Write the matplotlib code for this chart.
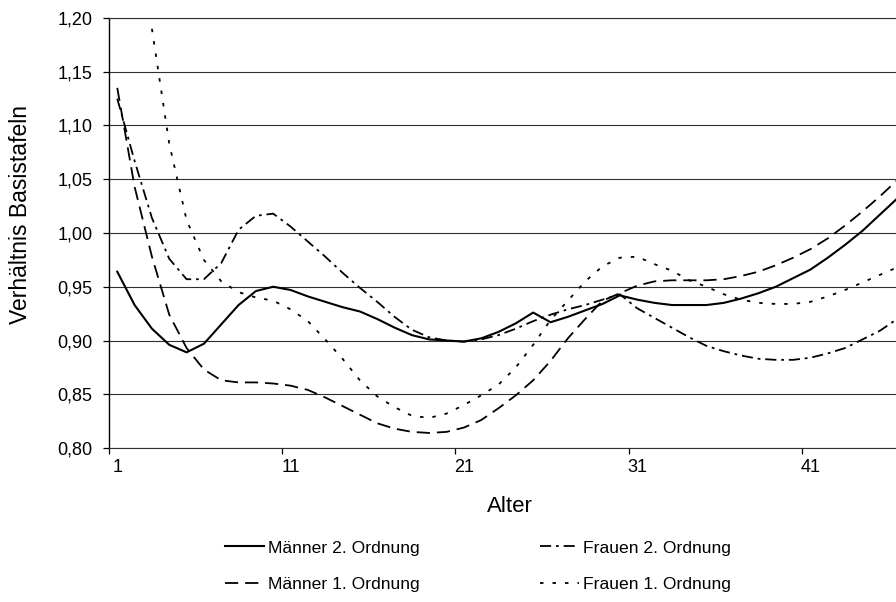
import matplotlib
matplotlib.use('Agg')
import matplotlib.pyplot as plt

plt.rcParams['font.family'] = ['Liberation Sans', 'DejaVu Sans']
plt.rcParams['lines.scale_dashes'] = False

# ages on the category axis
ages = list(range(1, 47))
ages_frauen_1 = list(range(3, 47))

maenner_2 = [0.964, 0.933, 0.911, 0.896, 0.889, 0.897, 0.915, 0.933, 0.946, 0.950,
             0.947, 0.941, 0.936, 0.931, 0.927, 0.920, 0.912, 0.905, 0.901, 0.900,
             0.899, 0.902, 0.908, 0.916, 0.926, 0.917, 0.922, 0.928, 0.934, 0.942,
             0.938, 0.935, 0.933, 0.933, 0.933, 0.935, 0.939, 0.944, 0.950, 0.958,
             0.966, 0.977, 0.989, 1.002, 1.017, 1.032]

maenner_1 = [1.135, 1.043, 0.978, 0.924, 0.893, 0.873, 0.863, 0.861, 0.861, 0.860,
             0.858, 0.854, 0.847, 0.839, 0.831, 0.823, 0.818, 0.815, 0.814, 0.815,
             0.819, 0.826, 0.837, 0.849, 0.863, 0.881, 0.902, 0.920, 0.937, 0.944,
             0.951, 0.955, 0.956, 0.956, 0.956, 0.957, 0.960, 0.964, 0.970, 0.977,
             0.985, 0.995, 1.007, 1.020, 1.034, 1.049]

frauen_2 = [1.125, 1.067, 1.014, 0.976, 0.957, 0.957, 0.972, 1.003, 1.016, 1.018,
            1.006, 0.992, 0.978, 0.963, 0.949, 0.936, 0.922, 0.910, 0.903, 0.900,
            0.899, 0.901, 0.905, 0.911, 0.918, 0.924, 0.929, 0.933, 0.938, 0.943,
            0.930, 0.921, 0.912, 0.903, 0.895, 0.890, 0.886, 0.883, 0.882, 0.882,
            0.884, 0.888, 0.893, 0.901, 0.909, 0.920]

frauen_1 = [1.190, 1.083, 1.012, 0.975, 0.955, 0.945, 0.940, 0.937, 0.929, 0.918,
            0.901, 0.883, 0.863, 0.848, 0.838, 0.830, 0.828, 0.832, 0.840, 0.849,
            0.859, 0.875, 0.896, 0.919, 0.937, 0.955, 0.969, 0.977, 0.978, 0.971,
            0.965, 0.956, 0.950, 0.943, 0.938, 0.935, 0.934, 0.934, 0.936, 0.941,
            0.947, 0.954, 0.961, 0.968]

y_ticks = [0.80, 0.85, 0.90, 0.95, 1.00, 1.05, 1.10, 1.15, 1.20]
y_tick_labels = ['0,80', '0,85', '0,90', '0,95', '1,00', '1,05', '1,10', '1,15', '1,20']
x_ticks = [1, 11, 21, 31, 41]
x_tick_labels = ['1', '11', '21', '31', '41']

W, H = 896, 602
fig = plt.figure(figsize=(W / 100, H / 100), dpi=100)
ax = fig.add_axes([108.6 / W, (H - 448) / H, (W - 108.6) / W, (448 - 18) / H])

ax.plot(ages, maenner_2, color='black', lw=1.5, label='Männer 2. Ordnung')
ax.plot(ages, maenner_1, color='black', lw=1.3, dashes=(9.5, 5),
        label='Männer 1. Ordnung')
ax.plot(ages, frauen_2, color='black', lw=1.3, dashes=(8, 3.5, 2, 3.5),
        label='Frauen 2. Ordnung')
ax.plot(ages_frauen_1, frauen_1, color='black', lw=1.3, dashes=(2.5, 6.5),
        label='Frauen 1. Ordnung')

ax.set_xlim(0.5, 0.5 + (W - 108.6) / 17.33)
ax.set_ylim(0.80, 1.20)

ax.set_yticks(y_ticks)
ax.set_yticklabels(y_tick_labels)
ax.set_xticks(x_ticks)
ax.set_xticklabels(x_tick_labels)
ax.set_xticks([0.5, 10.5, 20.5, 30.5, 40.5], minor=True)
ax.tick_params(axis='y', length=4.5, width=0.9, pad=7, labelsize=13, colors='black')
ax.tick_params(axis='x', which='major', length=0, pad=8, labelsize=13)
ax.tick_params(axis='x', which='minor', length=4.5, width=0.9)

ax.grid(axis='y', color='#303030', lw=0.8)
ax.set_axisbelow(True)
for side in ['top', 'bottom']:
    ax.spines[side].set_color('#303030')
    ax.spines[side].set_linewidth(0.8)
ax.spines['right'].set_visible(False)
ax.spines['left'].set_linewidth(1.0)

fig.text(21 / W, 1 - 214 / H, 'Verhältnis Basistafeln', rotation=90,
         ha='center', va='center', fontsize=16.5)
fig.text(510 / W, 1 - 506 / H, 'Alter', ha='center', va='center', fontsize=16)

handles, labels = ax.get_legend_handles_labels()
fig.legend(handles, labels, ncol=2, loc='center left',
           bbox_to_anchor=(225 / W, 1 - 566 / H), frameon=False, fontsize=12.6,
           handlelength=2.2, handletextpad=0.25, columnspacing=6.9,
           labelspacing=1.2, borderpad=0, borderaxespad=0)

fig.savefig('out.png', dpi=100)
